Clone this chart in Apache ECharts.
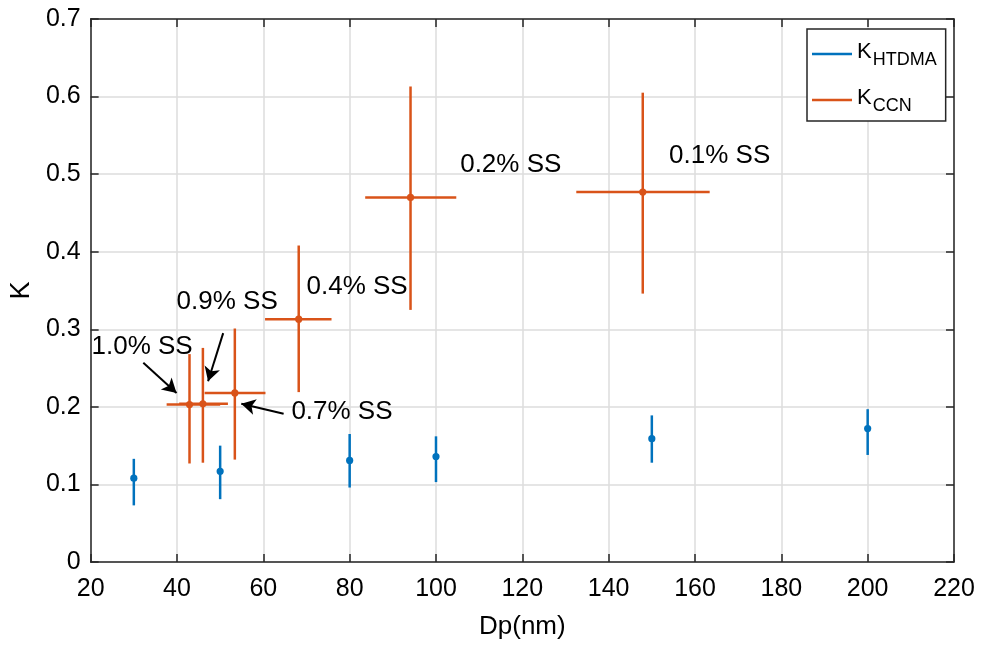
<!DOCTYPE html>
<html>
<head>
<meta charset="utf-8">
<script src="https://cdn.jsdelivr.net/npm/echarts@6/dist/echarts.min.js"></script>
<style>
  html, body { margin: 0; padding: 0; background: #fff; }
  #main { width: 982px; height: 646px; }
</style>
</head>
<body>
<div id="main"></div>
<script>
// K_HTDMA
var dpHtdma = [30, 50, 80, 100, 150, 200];
var kHtdma = [0.108, 0.117, 0.131, 0.136, 0.159, 0.172];
var kHtdmaLow = [0.073, 0.081, 0.096, 0.103, 0.128, 0.138];
var kHtdmaHigh = [0.133, 0.150, 0.165, 0.162, 0.189, 0.197];

// K_CCN
var ssLabels = ['1.0% SS', '0.9% SS', '0.7% SS', '0.4% SS', '0.2% SS', '0.1% SS'];
var dpCcn = [42.9, 46.0, 53.4, 68.2, 94.1, 147.9];
var dpCcnLow = [37.6, 40.5, 46.4, 60.4, 83.6, 132.5];
var dpCcnHigh = [50.0, 51.8, 60.5, 75.8, 104.7, 163.4];
var kCcn = [0.203, 0.204, 0.218, 0.313, 0.470, 0.477];
var kCcnLow = [0.127, 0.128, 0.132, 0.219, 0.325, 0.346];
var kCcnHigh = [0.268, 0.276, 0.301, 0.408, 0.613, 0.605];

// where the SS text sits (left-middle of text, data units)
var labelDp = [20.2, 39.9, 66.5, 70.0, 105.6, 154.0];
var labelK = [0.278, 0.336, 0.194, 0.355, 0.512, 0.523];

// arrows for the crowded ones (1.0, 0.9, 0.7)
var arrowFrom = [[32.2, 0.257], [50.7, 0.295], [64.7, 0.191]];
var arrowTo = [[39.9, 0.218], [47.2, 0.233], [54.9, 0.204]];

var blue = '#0072BD';
var orange = '#D95319';
var axisCol = '#262626';
var font = 'Arial, "Liberation Sans", Helvetica, sans-serif';

var htdmaData = dpHtdma.map(function (d, i) {
  return [d, kHtdma[i], kHtdmaLow[i], kHtdmaHigh[i]];
});
var ccnData = dpCcn.map(function (d, i) {
  return [d, kCcn[i], kCcnLow[i], kCcnHigh[i], dpCcnLow[i], dpCcnHigh[i]];
});
var labelData = labelDp.map(function (d, i) {
  return { name: ssLabels[i], value: [d, labelK[i]] };
});
var arrowLines = arrowFrom.map(function (f, i) {
  return [{ coord: f }, { coord: arrowTo[i] }];
});

function errRender(color, withX) {
  return function (params, api) {
    var x = api.value(0), y = api.value(1);
    var c = api.coord([x, y]);
    var lo = api.coord([x, api.value(2)]);
    var hi = api.coord([x, api.value(3)]);
    var st = { stroke: color, lineWidth: 2.5 };
    var kids = [{
      type: 'line', shape: { x1: c[0], y1: lo[1], x2: c[0], y2: hi[1] }, style: st
    }];
    if (withX) {
      var l = api.coord([api.value(4), y]);
      var r = api.coord([api.value(5), y]);
      kids.push({ type: 'line', shape: { x1: l[0], y1: c[1], x2: r[0], y2: c[1] }, style: st });
    }
    kids.push({ type: 'circle', shape: { cx: c[0], cy: c[1], r: 3.6 }, style: { fill: color } });
    return { type: 'group', children: kids };
  };
}

var myChart = echarts.init(document.getElementById('main'));

var option = {
  animation: false,
  backgroundColor: '#fff',
  textStyle: { fontFamily: font },
  grid: { left: 89, right: 28, top: 19, bottom: 84 },
  legend: {
    orient: 'vertical',
    left: 807,
    top: 29,
    padding: [8, 9, 6, 5],
    itemGap: 14,
    itemWidth: 40,
    itemHeight: 2.5,
    icon: 'rect',
    backgroundColor: '#fff',
    borderColor: axisCol,
    borderWidth: 1.5,
    data: ['K_HTDMA', 'K_CCN'],
    formatter: function (name) {
      return name === 'K_HTDMA' ? '{k|K}{s|HTDMA}' : '{k|K}{s|CCN}';
    },
    textStyle: {
      padding: [0, 0, 0, 0],
      rich: {
        k: { fontSize: 22, fontFamily: font, color: '#000', lineHeight: 30, verticalAlign: 'top', padding: [2, 0, 0, 0] },
        s: { fontSize: 18, fontFamily: font, color: '#000', lineHeight: 30, verticalAlign: 'bottom', padding: [14, 0, 0, 1] }
      }
    }
  },
  xAxis: [{
    type: 'value',
    min: 20, max: 220, interval: 20,
    name: 'Dp(nm)',
    nameLocation: 'middle',
    nameGap: 52,
    nameTextStyle: { fontSize: 26, color: '#000', fontFamily: font },
    axisLine: { show: true, onZero: false, lineStyle: { color: axisCol, width: 1.5 } },
    axisTick: { show: true, inside: true, length: 8, lineStyle: { color: axisCol, width: 1.5 } },
    axisLabel: { fontSize: 25, color: '#000', margin: 15, fontFamily: font },
    splitLine: { show: true, lineStyle: { color: '#dcdcdc', width: 1.5 } }
  }, {
    type: 'value', position: 'top',
    min: 20, max: 220, interval: 20,
    axisLine: { show: true, onZero: false, lineStyle: { color: axisCol, width: 1.5 } },
    axisTick: { show: true, inside: true, length: 8, lineStyle: { color: axisCol, width: 1.5 } },
    axisLabel: { show: false },
    splitLine: { show: false }
  }],
  yAxis: [{
    type: 'value',
    min: 0, max: 0.7, interval: 0.1,
    name: 'K',
    nameLocation: 'middle',
    nameGap: 53,
    nameTextStyle: { fontSize: 27, color: '#000', fontFamily: font },
    axisLine: { show: true, onZero: false, lineStyle: { color: axisCol, width: 1.5 } },
    axisTick: { show: true, inside: true, length: 8, lineStyle: { color: axisCol, width: 1.5 } },
    axisLabel: {
      fontSize: 25, color: '#000', margin: 10, fontFamily: font,
      formatter: function (v) { return v === 0 ? '0' : v.toFixed(1); }
    },
    splitLine: { show: true, lineStyle: { color: '#dcdcdc', width: 1.5 } }
  }, {
    type: 'value', position: 'right',
    min: 0, max: 0.7, interval: 0.1,
    axisLine: { show: true, onZero: false, lineStyle: { color: axisCol, width: 1.5 } },
    axisTick: { show: true, inside: true, length: 8, lineStyle: { color: axisCol, width: 1.5 } },
    axisLabel: { show: false },
    splitLine: { show: false }
  }],
  series: [
    {
      name: 'K_HTDMA',
      type: 'custom',
      renderItem: errRender(blue, false),
      itemStyle: { color: blue },
      encode: { x: 0, y: 1 },
      data: htdmaData,
      z: 3
    },
    {
      name: 'K_CCN',
      type: 'custom',
      renderItem: errRender(orange, true),
      itemStyle: { color: orange },
      encode: { x: 0, y: 1 },
      data: ccnData,
      z: 4
    },
    {
      name: 'ss',
      type: 'scatter',
      symbolSize: 0,
      silent: true,
      clip: false,
      itemStyle: { opacity: 1 },
      label: {
        show: true,
        position: 'right',
        distance: 0,
        formatter: '{b}',
        fontSize: 26,
        color: '#000',
        opacity: 1,
        fontFamily: font
      },
      data: labelData,
      markLine: {
        silent: true,
        symbol: ['none', 'arrow'],
        symbolSize: [12, 14],
        label: { show: false },
        lineStyle: { color: '#000', width: 2, type: 'solid', opacity: 1 },
        data: arrowLines
      },
      z: 5
    }
  ]
};

myChart.setOption(option);
</script>
</body>
</html>
